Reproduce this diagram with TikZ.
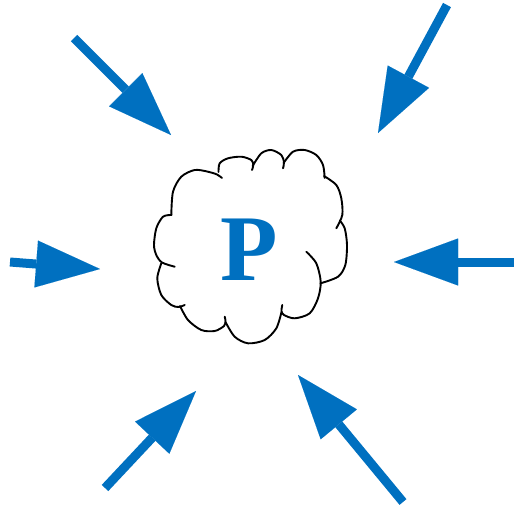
\documentclass[tikz,border=0pt]{standalone}
\usepackage{fontspec}
\setmainfont{Liberation Serif}
\usetikzlibrary{arrows.meta}
\definecolor{pblue}{HTML}{0070C0}
\begin{document}
\begin{tikzpicture}[x=1pt,y=-1pt,
  bigarrow/.style={draw=pblue, line width=9pt,
    -{Triangle[length=64pt,width=47pt,line width=0.01pt]}},
  cloudline/.style={draw=black, line width=1.9pt, line cap=round, line join=round}]
\useasboundingbox (0,0) rectangle (514,509);
% cloud outline (puffs)
\draw[cloudline] plot[smooth] coordinates {(171.3,215) (173,191.7) (181.3,176.7) (194.7,170) (208,171.7) (217,174.5) (222,178)};
\draw[cloudline] plot[smooth] coordinates {(218.5,172) (219.7,163.3) (228,158.3) (241.3,156.7) (251.3,160) (253.3,165) (252,170)};
\draw[cloudline] plot[smooth] coordinates {(252.6,166) (261.3,153.3) (271.3,150) (281.3,155) (284,162.3) (283,168.3)};
\draw[cloudline] plot[smooth] coordinates {(283.6,163) (293,151.7) (304.7,150) (316.3,155) (323,165) (324.7,178)};
\draw[cloudline] plot[smooth] coordinates {(324,176) (336.3,185) (341.3,198.3) (342.3,215) (336.3,228.3)};
\draw[cloudline] plot[smooth] coordinates {(339.7,220.5) (344.7,228.3) (347,245) (345.3,265) (338,276.7) (320.5,283.3)};
\draw[cloudline] plot[smooth] coordinates {(306.3,251.7) (316.3,263.3) (320.7,281.7) (318,298.3) (309.7,313.3) (294.7,318.3) (284,315) (281.5,311) (282.3,305)};
\draw[cloudline] plot[smooth] coordinates {(225.5,322) (234.7,336.7) (248,343.3) (264.7,340) (276.3,328.3) (281.5,312)};
\draw[cloudline] plot[smooth] coordinates {(180,306) (188,320) (201.3,330) (214.7,331) (224,326) (225.5,321) (224.7,316.7)};
\draw[cloudline] plot[smooth] coordinates {(161.3,263.3) (157.3,278.3) (161.3,295) (171.3,305) (178.5,307) (184.7,305)};
\draw[cloudline] plot[smooth] coordinates {(171.3,215) (163,216.7) (156.3,228.3) (154,245) (156.3,255) (162,262.5) (174.7,266.7)};
\node[text=pblue, font=\bfseries\fontsize{94}{94}\selectfont] (p) at (249.5,250) {P};
\coordinate (s1) at (74,38);   \coordinate (t1) at (171,135);
\coordinate (s2) at (447,5);   \coordinate (t2) at (378,133);
\coordinate (s3) at (10,262);  \coordinate (t3) at (100,269);
\coordinate (s4) at (514,262); \coordinate (t4) at (394,262);
\coordinate (s5) at (105,488); \coordinate (t5) at (196,391);
\coordinate (s6) at (403,502); \coordinate (t6) at (298,375);
\foreach \i in {1,...,6} \draw[bigarrow] (s\i) -- (t\i);
\end{tikzpicture}
\end{document}
